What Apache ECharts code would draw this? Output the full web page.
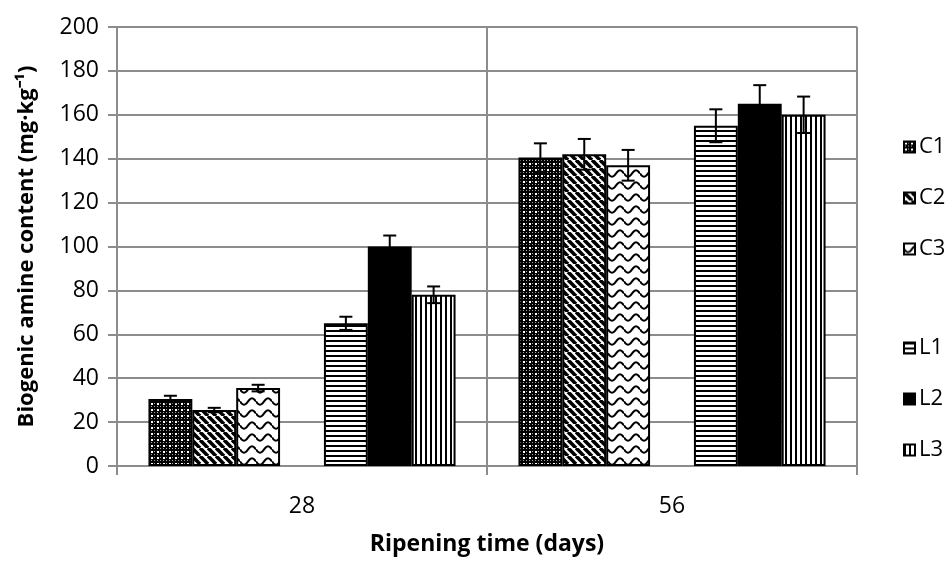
<!DOCTYPE html>
<html>
<head>
<meta charset="utf-8">
<script src="https://cdn.jsdelivr.net/npm/echarts@6/dist/echarts.min.js"></script>
<style>
html,body{margin:0;padding:0;background:#fff;}
#chart{width:950px;height:561px;}
</style>
</head>
<body>
<div id="chart"></div>
<script>
// ---- data ----
const categories = ['28', '56'];
const seriesNames = ['C1', 'C2', 'C3', 'L1', 'L2', 'L3'];
const C1 = [30.5, 140.5];
const C2 = [25.5, 142];
const C3 = [35.5, 137];
const L1 = [65, 155];
const L2 = [100, 165];
const L3 = [78, 160];
const C1err = [1.5, 6.5];
const C2err = [1, 7];
const C3err = [1.5, 7];
const L1err = [3, 7.5];
const L2err = [5, 8.5];
const L3err = [3.8, 8.3];
const yTicks = [0, 20, 40, 60, 80, 100, 120, 140, 160, 180, 200];

// ---- patterns ----
function tile(w, h, draw) {
  const c = document.createElement('canvas');
  c.width = w; c.height = h;
  const ctx = c.getContext('2d');
  ctx.fillStyle = '#fff'; ctx.fillRect(0, 0, w, h);
  draw(ctx);
  return { image: c, repeat: 'repeat' };
}
const patterns = {
  C1: tile(6, 6, ctx => {
    ctx.fillStyle = '#000'; ctx.fillRect(0, 0, 6, 6);
    ctx.fillStyle = '#fff';
    ctx.fillRect(1, 1, 2, 2);
    ctx.fillStyle = '#aaa';
    ctx.fillRect(4, 4, 1, 1);
    ctx.fillRect(4, 1, 1, 1);
    ctx.fillRect(1, 4, 1, 1);
  }),
  C2: tile(8, 8, ctx => {
    ctx.strokeStyle = '#000'; ctx.lineWidth = 3.6;
    for (let k = -8; k <= 16; k += 8) {
      ctx.beginPath(); ctx.moveTo(k, 0); ctx.lineTo(k + 8, 8); ctx.stroke();
    }
  }),
  C3: tile(16, 12, ctx => {
    ctx.strokeStyle = '#000'; ctx.lineWidth = 2;
    ctx.beginPath();
    for (let x = 0; x <= 16; x += 0.5) {
      const y = 5.5 + 3.2 * Math.sin(x / 16 * Math.PI * 2);
      if (x === 0) ctx.moveTo(x, y); else ctx.lineTo(x, y);
    }
    ctx.stroke();
  }),
  L1: tile(5, 5, ctx => {
    ctx.fillStyle = '#000'; ctx.fillRect(0, 0, 5, 2);
  }),
  L2: '#000',
  L3: tile(5, 5, ctx => {
    ctx.fillStyle = '#000'; ctx.fillRect(0, 0, 2, 5);
  })
};

const values = { C1, C2, C3, L1, L2, L3 };
const errs = { C1: C1err, C2: C2err, C3: C3err, L1: L1err, L2: L2err, L3: L3err };
const slotOf = { C1: 0, C2: 1, C3: 2, L1: 4, L2: 5, L3: 6 };
const NSLOT = 7;
const CAT_GAP = 0.17;
const FONT = '"Open Sans", sans-serif';

const series = [];
const order = ['C1', 'C2', 'C3', '__gap', 'L1', 'L2', 'L3'];
order.forEach(name => {
  if (name === '__gap') {
    series.push({ name: '__gap', type: 'bar', data: categories.map(() => null),
      barGap: '0%', barCategoryGap: '17%', silent: true });
    return;
  }
  series.push({
    name: name, type: 'bar', data: values[name],
    barGap: '0%', barCategoryGap: '17%',
    itemStyle: { color: patterns[name], borderColor: '#000', borderWidth: 2 },
    emphasis: { disabled: true }
  });
});

// error bars drawn through axis coords
const errData = [];
seriesNames.forEach(name => {
  values[name].forEach((v, i) => errData.push([i, v, errs[name][i], slotOf[name]]));
});
series.push({
  type: 'custom', name: 'err', silent: true, z: 10,
  data: errData,
  renderItem: function (params, api) {
    const ci = api.value(0), v = api.value(1), e = api.value(2), slot = api.value(3);
    const center = api.coord([ci, v]);
    const catW = api.size([1, 0])[0];
    const bw = catW * (1 - CAT_GAP) / NSLOT;
    const x = center[0] - catW * (1 - CAT_GAP) / 2 + bw * (slot + 0.5);
    const yTop = api.coord([ci, v + e])[1];
    const yBot = api.coord([ci, v - e])[1];
    const cap = 6.5;
    const st = { stroke: '#000', lineWidth: 2 };
    return { type: 'group', children: [
      { type: 'line', shape: { x1: x, y1: yTop, x2: x, y2: yBot }, style: st },
      { type: 'line', shape: { x1: x - cap, y1: yTop, x2: x + cap, y2: yTop }, style: st },
      { type: 'line', shape: { x1: x - cap, y1: yBot, x2: x + cap, y2: yBot }, style: st }
    ]};
  }
});

const legendBase = {
  orient: 'vertical', left: 898, itemWidth: 11, itemHeight: 11, itemGap: 29,
  textStyle: { fontFamily: FONT, fontSize: 22, color: '#000', padding: [0, 0, 0, -1] },
  selectedMode: false, icon: 'rect'
};

const chart = echarts.init(document.getElementById('chart'), null, { renderer: 'canvas' });
chart.setOption({
  animation: false,
  backgroundColor: '#fff',
  grid: { left: 117, right: 93, top: 27, bottom: 89 },
  legend: [
    Object.assign({}, legendBase, { top: 131, data: ['C1', 'C2', 'C3'] }),
    Object.assign({}, legendBase, { top: 332, data: ['L1', 'L2', 'L3'] })
  ],
  xAxis: {
    type: 'category', data: categories,
    name: 'Ripening time (days)', nameLocation: 'middle', nameGap: 67,
    nameTextStyle: { fontFamily: FONT, fontSize: 23, fontWeight: 'bold', color: '#000' },
    axisLine: { lineStyle: { color: '#8c8c8c', width: 2 } },
    axisTick: { show: true, length: 9, lineStyle: { color: '#8c8c8c', width: 2 } },
    axisLabel: { fontFamily: FONT, fontSize: 23, color: '#000', margin: 29 },
    splitLine: { show: true, lineStyle: { color: '#8c8c8c', width: 2 } }
  },
  yAxis: {
    type: 'value', min: yTicks[0], max: yTicks[yTicks.length - 1], interval: 20,
    name: 'Biogenic amine content (mg·kg⁻¹)', nameLocation: 'middle', nameGap: 79,
    nameTextStyle: { fontFamily: FONT, fontSize: 22, fontWeight: 'bold', color: '#000' },
    axisLine: { show: true, lineStyle: { color: '#8c8c8c', width: 2 } },
    axisTick: { show: true, length: 9, lineStyle: { color: '#8c8c8c', width: 2 } },
    axisLabel: { fontFamily: FONT, fontSize: 23, color: '#000', margin: 18 },
    splitLine: { show: true, lineStyle: { color: '#8c8c8c', width: 2 } }
  },
  series: series
});
</script>
</body>
</html>
